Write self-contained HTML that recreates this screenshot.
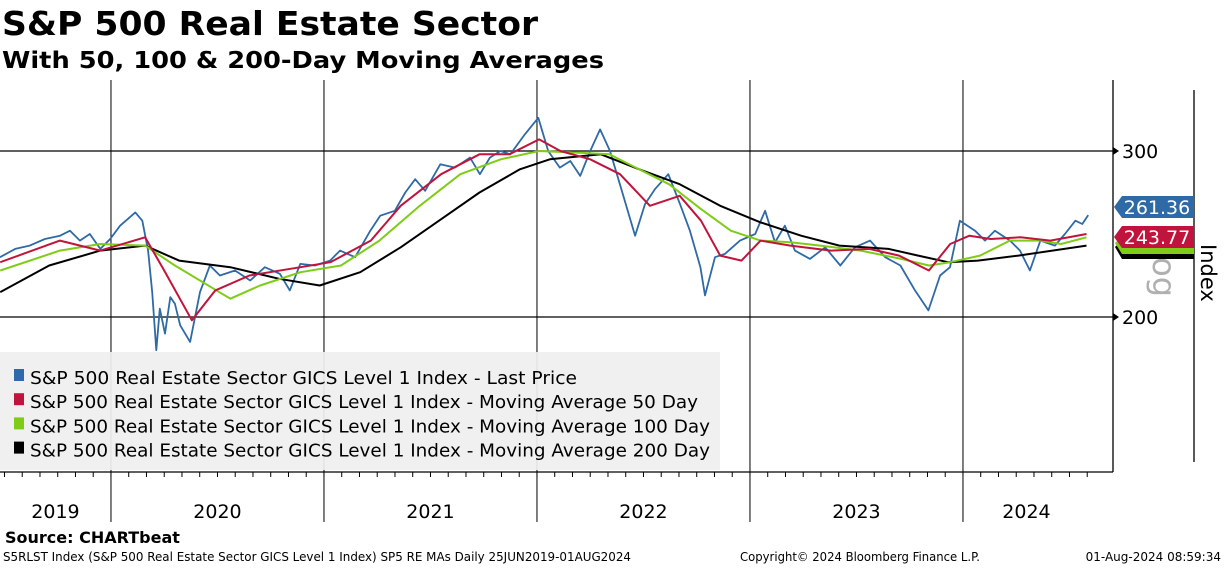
<!DOCTYPE html>
<html><head><meta charset="utf-8">
<style>
body{margin:0;background:#fff;width:1224px;height:566px;overflow:hidden;font-family:"DejaVu Sans","Liberation Sans",sans-serif}
svg text{font-family:"DejaVu Sans","Liberation Sans",sans-serif}
</style></head>
<body>
<svg id="chart" width="1224" height="566" viewBox="0 0 1224 566" xmlns="http://www.w3.org/2000/svg">
<text x="2" y="35" font-size="33" font-weight="bold" textLength="536" lengthAdjust="spacingAndGlyphs">S&amp;P 500 Real Estate Sector</text>
<text x="2" y="68" font-size="23" font-weight="bold" textLength="602" lengthAdjust="spacingAndGlyphs">With 50, 100 &amp; 200-Day Moving Averages</text>
<g id="grid"></g>
<g id="series"></g>
<rect x="0" y="352" width="720" height="118" fill="#efefef" opacity="0.93"/>
<g id="legend"></g>
<line x1="0" y1="472" x2="1113" y2="472" stroke="#000" stroke-width="1.3"/>
<line x1="1113" y1="80" x2="1113" y2="472" stroke="#000" stroke-width="1.3"/>
<line x1="1194" y1="90" x2="1194" y2="462" stroke="#000" stroke-width="1.3"/>
<g id="yaxis"></g>
<g id="xaxis"></g>
<text transform="translate(1153,245) rotate(90)" font-size="32" fill="#b0b0b0">-og</text>
<text transform="translate(1201,244) rotate(90)" font-size="21">Index</text>
<g id="labels"></g>
<text x="5" y="543" font-size="16" font-weight="bold">Source: CHARTbeat</text>
<text x="3" y="561" font-size="12" textLength="628" lengthAdjust="spacingAndGlyphs">S5RLST Index (S&amp;P 500 Real Estate Sector GICS Level 1 Index) SP5 RE MAs  Daily 25JUN2019-01AUG2024</text>
<text x="740" y="561" font-size="12" textLength="240" lengthAdjust="spacingAndGlyphs">Copyright© 2024 Bloomberg Finance L.P.</text>
<text x="1221" y="561" font-size="12" text-anchor="end">01-Aug-2024 08:59:34</text>
</svg>
<script>
// price: days since 25 Jun 2019
const priceD=[0,26,51,77,103,120,137,154,172,189,206,232,244,254,261,268,274,283,292,300,309,326,343,360,377,403,429,454,480,497,515,540,566,583,609,635,652,677,695,712,729,755,780,806,823,840,858,875,900,923,940,960,978,995,1012,1029,1046,1063,1089,1106,1123,1146,1166,1183,1201,1209,1226,1243,1269,1295,1312,1329,1346,1363,1389,1415,1441,1466,1492,1518,1544,1569,1592,1612,1629,1646,1672,1689,1706,1732,1749,1766,1784,1809,1826,1844,1856,1866];
const priceV=[236,241,243,247,249,252,246,250,241,247,255,263,258,240,215,180,205,190,212,208,195,185,215,231,225,228,222,230,226,216,232,231,234,240,236,252,261,264,275,283,276,292,290,296,286,296,300,298,310,320,300,290,294,285,300,313,300,280,249,268,277,286,268,252,230,213,236,238,246,250,264,245,255,240,235,242,231,242,246,236,231,216,204,225,230,258,252,246,252,246,240,228,246,243,250,258,256,261.36];
// moving averages: decimal years
const ma50T=[2019.48,2019.76,2019.95,2020.16,2020.25,2020.38,2020.49,2020.65,2020.89,2021.03,2021.22,2021.36,2021.55,2021.73,2021.87,2022.01,2022.11,2022.25,2022.39,2022.53,2022.67,2022.77,2022.86,2022.96,2023.05,2023.19,2023.38,2023.56,2023.7,2023.84,2023.94,2024.03,2024.13,2024.27,2024.41,2024.58];
const ma50V=[233,246,240,248,228,198,216,225,230,233,246,267,286,298,298,307,300,295,286,267,273,258,237,234,246,243,240,241,237,228,244,249,247,248,246,250];
const ma100T=[2019.48,2019.76,2019.95,2020.16,2020.3,2020.56,2020.7,2020.89,2021.08,2021.26,2021.45,2021.64,2021.83,2022.01,2022.2,2022.34,2022.48,2022.62,2022.77,2022.91,2023.05,2023.19,2023.33,2023.52,2023.71,2023.84,2023.94,2024.08,2024.22,2024.36,2024.46,2024.58];
const ma100V=[228,240,244,243,231,211,219,227,231,246,267,286,295,300,299,298,289,280,265,252,246,245,243,240,235,231,233,237,246,246,244,248];
const ma200T=[2019.48,2019.71,2019.95,2020.16,2020.32,2020.56,2020.79,2020.98,2021.17,2021.36,2021.54,2021.73,2021.92,2022.06,2022.3,2022.48,2022.67,2022.86,2023.05,2023.24,2023.42,2023.65,2023.79,2023.93,2024.07,2024.26,2024.58];
const ma200V=[215,231,240,243,234,230,223,219,227,242,258,275,289,295,298,289,280,267,257,249,243,241,237,233,234,237,243];
const yTicks=[200,300];
const yearLabels=["2019","2020","2021","2022","2023","2024"];
const yearStarts=[2020,2021,2022,2023,2024];
const lastValues=["261.36","243.77"];

const NS="http://www.w3.org/2000/svg";
const X=t=>(t-2019.479)*213;
const XD=d=>X(2019.479+d/365.25);
const Y=v=>151+(300-v)*1.66;
function mk(tag,attrs,parent){const e=document.createElementNS(NS,tag);for(const k in attrs)e.setAttribute(k,attrs[k]);parent.appendChild(e);return e;}
const grid=document.getElementById('grid');
yTicks.forEach(v=>{
  const l=mk('line',{x1:0,x2:1113,y1:Y(v),y2:Y(v),stroke:'#000','stroke-width':1.2},grid);
  
  
});
yearStarts.forEach(t=>{
  const l=mk('line',{x1:X(t),x2:X(t),y1:80,y2:522,stroke:'#000','stroke-width':1},grid);
  
  
});
const ser=document.getElementById('series');
function line(xs,V,color,w,name){
  const d=xs.map((x,i)=>(i?'L':'M')+x.toFixed(1)+' '+Y(V[i]).toFixed(1)).join(' ');
  const p=mk('path',{d:d,fill:'none',stroke:color,'stroke-width':w,'stroke-linejoin':'round'},ser);
  
  
}
line(priceD.map(XD),priceV,'#2e6aa6',1.8,'price-line');
line(ma200T.map(X),ma200V,'#000',2,'ma200-line');
line(ma100T.map(X),ma100V,'#7fcc17',2,'ma100-line');
line(ma50T.map(X),ma50V,'#c0143c',2,'ma50-line');
const leg=document.getElementById('legend');
const legItems=[["#2e6aa6","Last Price",547],["#c0143c","Moving Average 50 Day",668],["#7fcc17","Moving Average 100 Day",680],["#000","Moving Average 200 Day",680]];
legItems.forEach((it,i)=>{
  const y=377+i*24.2;
  const r=mk('rect',{x:14,y:y-8,width:10,height:12,fill:it[0]},leg);
  
  
  const t=mk('text',{x:30,y:y+7,'font-size':18,textLength:it[2],lengthAdjust:'spacingAndGlyphs'},leg);
  t.textContent='S&P 500 Real Estate Sector GICS Level 1 Index - '+it[1];
  
  
});
const ya=document.getElementById('yaxis');
yTicks.forEach(v=>{
  const p=mk('path',{d:`M1113 ${Y(v)-4} L1119 ${Y(v)} L1113 ${Y(v)+4} Z`,fill:'#000'},ya);
  
  
  const t=mk('text',{x:1122,y:Y(v)+7,'font-size':19},ya);
  t.textContent=v;
  
  
});
const xa=document.getElementById('xaxis');
for(let m=0;m<62;m++){
  const t=2019.5+m/12; const x=X(t); if(x<0||x>1113)continue;
  const l=mk('line',{x1:x,x2:x,y1:472,y2:477,stroke:'#000'},xa);
  
  
}
yearLabels.forEach((y,i)=>{
  const a=Math.max(0,X(+y)),b=Math.min(1090,X(+y+1));
  const t=mk('text',{x:(a+b)/2,y:518,'font-size':19,'text-anchor':'middle'},xa);
  t.textContent=y;
  
  
});
const lb=document.getElementById('labels');
const g=mk('path',{d:'M1115 247 L1122 240 L1194 240 L1194 259 L1122 259 Z',fill:'#000'},lb);


const g2=mk('path',{d:'M1115 243 L1122 237 L1194 237 L1194 254 L1122 254 Z',fill:'#7fcc17'},lb);


const tagColors=["#2e6aa6","#c0143c"],tagY=[207,237];
[1,0].forEach(i=>{
  const y=tagY[i];
  const p=mk('path',{d:`M1114 ${y} L1122 ${y-11} L1194 ${y-11} L1194 ${y+11} L1122 ${y+11} Z`,fill:tagColors[i]},lb);
  
  
  const t=mk('text',{x:1157,y:y+7,'font-size':19,fill:'#fff','text-anchor':'middle'},lb);
  t.textContent=lastValues[i];
  
  
});
</script>
</body></html>
